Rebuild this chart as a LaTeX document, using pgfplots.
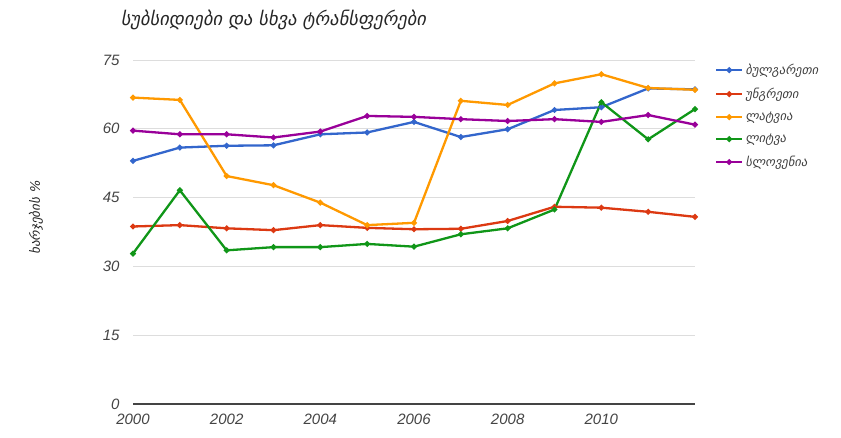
\documentclass[border=0pt]{standalone}
\usepackage{pgfplots}
\pgfplotsset{compat=1.18}
\usepackage{fontspec}
\setmainfont{Liberation Sans}
\newfontfamily\geo[FakeSlant=0.2]{DejaVu Sans}
\definecolor{gblue}{HTML}{3366CC}
\definecolor{gred}{HTML}{DC3912}
\definecolor{gorange}{HTML}{FF9900}
\definecolor{ggreen}{HTML}{109618}
\definecolor{gpurple}{HTML}{990099}
\definecolor{gridgray}{HTML}{DDDDDD}
\definecolor{txtgray}{HTML}{444444}
\begin{document}
\begin{tikzpicture}[x=1pt,y=1pt]
\path[use as bounding box] (0,0) rectangle (841,438);
\node[anchor=west,font=\geo\fontsize{18.5}{21}\selectfont,text=black!85] at (117,418) {სუბსიდიები და სხვა ტრანსფერები};
\node[rotate=90,font=\geo\fontsize{13}{15}\selectfont,text=black!85] at (36,220) {ხარჯების \%};
\begin{axis}[
  at={(133pt,34pt)}, anchor=south west,
  scale only axis, width=562pt, height=344pt,
  xmin=2000, xmax=2012, ymin=0, ymax=75,
  xtick={2000,2002,...,2010}, ytick={0,15,...,75},
  axis y line*=left, axis x line*=bottom,
  y axis line style={draw=none},
  x axis line style={draw=txtgray, line width=1.2pt, -},
  ymajorgrids, grid style={gridgray, line width=0.9pt},
  major tick length=0pt,
  tick label style={font=\fontsize{15}{18}\selectfont\itshape, text=txtgray},
  /pgf/number format/assume math mode=true,
  /pgf/number format/1000 sep={},
  xticklabel style={yshift=-6pt},
  yticklabel style={xshift=-10pt},
  clip=false,
  legend style={at={(1.03,1.0)}, anchor=north west, draw=none, fill=none,
    font=\geo\fontsize{12.5}{14}\selectfont, text=black!75, row sep=8pt,
    legend cell align=left},
  legend image code/.code={\draw[#1] (0pt,0pt) -- (26pt,0pt); \draw[#1] plot coordinates {(13pt,0pt)};},
  every axis plot/.append style={line width=2.3pt, mark=*, mark size=1.6pt},
]
\addplot[gblue] coordinates {(2000,53.0)(2001,55.9)(2002,56.3)(2003,56.4)(2004,58.8)(2005,59.2)(2006,61.5)(2007,58.2)(2008,59.9)(2009,64.1)(2010,64.7)(2011,68.8)(2012,68.6)};
\addlegendentry{ბულგარეთი}
\addplot[gred] coordinates {(2000,38.7)(2001,39.0)(2002,38.3)(2003,37.9)(2004,39.0)(2005,38.4)(2006,38.1)(2007,38.2)(2008,39.9)(2009,43.0)(2010,42.8)(2011,41.9)(2012,40.8)};
\addlegendentry{უნგრეთი}
\addplot[gorange] coordinates {(2000,66.8)(2001,66.3)(2002,49.7)(2003,47.7)(2004,43.9)(2005,39.0)(2006,39.5)(2007,66.1)(2008,65.2)(2009,69.9)(2010,71.9)(2011,68.9)(2012,68.5)};
\addlegendentry{ლატვია}
\addplot[ggreen] coordinates {(2000,32.8)(2001,46.6)(2002,33.5)(2003,34.2)(2004,34.2)(2005,34.9)(2006,34.3)(2007,37.0)(2008,38.3)(2009,42.4)(2010,65.8)(2011,57.7)(2012,64.3)};
\addlegendentry{ლიტვა}
\addplot[gpurple] coordinates {(2000,59.6)(2001,58.8)(2002,58.8)(2003,58.1)(2004,59.4)(2005,62.8)(2006,62.6)(2007,62.1)(2008,61.7)(2009,62.1)(2010,61.5)(2011,63.0)(2012,60.9)};
\addlegendentry{სლოვენია}
\end{axis}
\end{tikzpicture}
\end{document}
